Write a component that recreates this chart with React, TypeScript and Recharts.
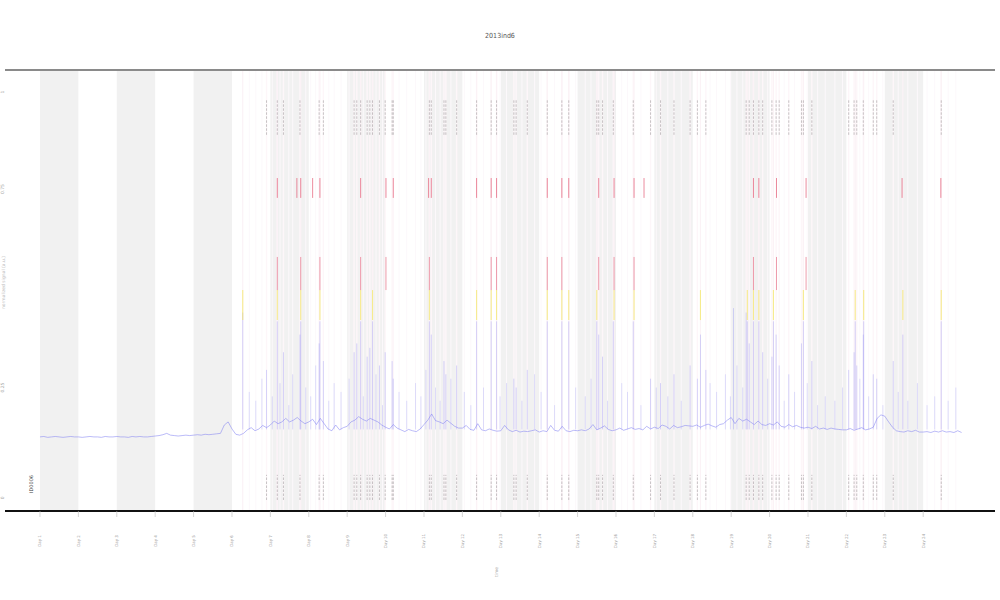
import React from 'react';
import {
  LineChart,
  Line,
  XAxis,
  YAxis,
  ReferenceArea,
  ReferenceLine
} from 'recharts';

// blue trace, one value every 0.1 day from 0 to 24
const traceStep = 0.1;
const traceValues = [
  16.8, 16.9, 16.7, 16.8, 16.9, 16.8, 16.7, 16.8, 16.9, 16.8,
  16.8, 16.7, 16.8, 16.9, 16.8, 16.8, 16.7, 16.9, 16.8, 16.8,
  16.9, 16.8, 16.8, 16.7, 16.9, 16.8, 16.9, 16.8, 16.8, 16.9,
  17.0, 17.1, 17.3, 17.6, 17.2, 17.1, 17.0, 17.1, 17.2, 17.1,
  17.2, 17.3, 17.2, 17.4, 17.3, 17.4, 17.5, 17.6, 19.5, 20.2,
  18.6, 17.4, 17.2, 17.6, 18.4, 18.9, 18.2, 18.6, 19.4, 18.9,
  19.5, 20.4, 19.8, 20.2, 21.0, 20.2, 20.6, 21.2, 20.4, 19.8,
  20.2, 20.8, 19.6, 21.0, 19.8, 18.6, 18.2, 19.5, 18.4, 18.9,
  19.2, 20.2, 20.6, 21.4, 20.8, 20.4, 21.0, 20.6, 20.2, 19.5,
  19.0, 18.6, 19.6, 18.8, 18.4, 18.0, 18.5, 18.2, 18.0, 18.6,
  19.6, 20.6, 22.0, 20.5, 20.2, 19.8, 20.6, 19.9, 19.2, 18.8,
  18.8, 19.4, 18.5, 18.3, 19.8, 18.4, 18.2, 18.6, 18.3, 18.1,
  18.2, 19.4, 18.4, 18.0, 18.3, 17.9, 18.1, 18.0, 18.2, 18.4,
  17.9, 18.2, 18.0, 19.4, 18.3, 18.1, 19.2, 18.2, 18.0, 18.3,
  18.2, 18.4, 18.2, 18.6, 19.6, 18.4, 18.8, 19.3, 18.5, 18.2,
  18.4, 18.8, 18.3, 18.6, 18.9, 18.5, 18.7, 18.4, 19.2, 18.6,
  19.0, 18.7, 19.5, 19.2, 18.6, 19.4, 18.9, 19.1, 19.4, 19.3,
  19.2, 19.5, 19.0, 19.4, 19.7, 19.3, 19.0, 19.6, 19.8, 20.6,
  21.2, 19.8, 21.0, 20.4, 20.8, 20.2, 19.6, 20.4, 19.6, 19.4,
  19.8, 19.5, 20.2, 19.2, 19.0, 19.6, 19.1, 19.4, 19.0, 18.8,
  19.0, 18.7, 19.2, 18.6, 18.8, 18.5, 18.8, 18.6, 18.5, 18.4,
  18.4, 18.7, 18.3, 18.6, 18.9, 18.4, 18.6, 19.0, 21.0, 21.8,
  21.5, 20.2, 19.0, 18.2, 18.0, 17.9, 18.2, 18.0, 18.3, 17.9,
  17.9, 18.0, 17.8, 18.1, 17.9, 18.2, 17.9, 18.0, 17.8, 18.2,
  17.8
];

// events with black tick marks (days)
const eventTimes = [
  5.90, 6.18, 6.34, 6.77, 7.27, 7.38, 8.18, 8.25, 8.35, 8.52,
  8.59, 8.66, 8.84, 8.99, 9.17, 9.20, 10.14, 10.19, 10.52, 10.57,
  10.85, 11.37, 11.75, 11.89, 12.34, 12.40, 12.69, 13.21, 13.59, 13.77,
  14.50, 14.55, 14.65, 14.93, 15.45, 15.90, 16.16, 16.51, 16.93, 17.12,
  17.34, 18.39, 18.47, 18.58, 18.72, 18.82, 19.06, 19.17, 19.25, 19.50,
  19.83, 19.88, 20.10, 21.06, 21.20, 21.27, 21.44, 21.70, 21.79, 22.22,
  23.47
];

// tall blue spikes: time and peak
const spikeTimes = [
  5.28, 5.90, 6.18, 6.34, 6.77, 6.79, 7.27, 7.29, 7.38, 8.18,
  8.25, 8.35, 8.52, 8.59, 8.66, 8.84, 8.99, 9.17, 9.20, 10.14,
  10.19, 10.52, 10.57, 10.85, 11.37, 11.75, 11.89, 12.34, 12.40, 12.69,
  13.21, 13.59, 13.77, 14.50, 14.55, 14.65, 14.93, 15.45, 15.90, 16.16,
  16.51, 16.93, 17.12, 17.20, 17.34, 18.06, 18.39, 18.42, 18.47, 18.58,
  18.72, 18.82, 19.06, 19.10, 19.17, 19.25, 19.50, 19.83, 19.88, 20.10,
  21.06, 21.20, 21.23, 21.27, 21.44, 21.45, 21.70, 21.79, 22.22, 22.47,
  23.47
];
const spikePeaks = [
  45, 32, 43, 36, 40, 43, 38, 43, 34, 36,
  38, 43, 35, 37, 43, 33, 36, 34, 30, 43,
  40, 34, 31, 33, 43, 43, 43, 30, 28, 32,
  43, 43, 43, 43, 40, 35, 43, 43, 30, 29,
  31, 33, 30, 40, 32, 46, 45, 43, 38, 43,
  43, 36, 35, 43, 40, 33, 31, 38, 43, 34,
  32, 36, 43, 33, 40, 43, 31, 30, 34, 40,
  43
];

// small blue spikes
const minorSpikeTimes = [
  5.45, 5.62, 5.78, 6.05, 6.25, 6.48, 6.58, 6.92, 7.05, 7.18,
  7.52, 7.66, 7.84, 8.05, 8.42, 8.75, 8.92, 9.35, 9.55, 9.78,
  9.92, 10.05, 10.30, 10.42, 10.70, 11.05, 11.22, 11.55, 11.98, 12.15,
  12.55, 12.88, 13.05, 13.40, 13.95, 14.20, 14.35, 14.78, 15.15, 15.30,
  15.65, 16.05, 16.35, 16.70, 17.45, 17.62, 17.85, 17.98, 18.15, 18.30,
  18.95, 19.38, 19.65, 19.98, 20.25, 20.45, 20.70, 20.90, 21.35, 21.58,
  21.95, 22.35, 22.60, 22.85, 23.10, 23.30, 23.65, 23.85
];
const minorSpikePeaks = [
  27, 25, 30, 26, 29, 24, 31, 28, 26, 33,
  25, 29, 27, 30, 26, 31, 24, 27, 25, 29,
  26, 32, 28, 25, 30, 27, 24, 28, 26, 29,
  25, 31, 27, 24, 28, 26, 30, 25, 29, 27,
  24, 28, 26, 25, 29, 27, 31, 26, 33, 28,
  30, 25, 27, 29, 24, 26, 25, 28, 30, 26,
  24, 27, 25, 29, 24, 26, 25, 28
];

const yellowTimes = [
  5.28, 6.18, 6.79, 7.29, 8.35, 8.66, 10.14, 11.37, 11.75, 11.89,
  13.21, 13.59, 13.77, 14.50, 14.95, 15.47, 17.20, 18.42, 18.58, 18.72,
  19.10, 19.88, 21.23, 21.45, 22.47, 23.47
];
const redMidTimes = [
  6.18, 6.79, 7.29, 8.35, 9.01, 10.14, 11.75, 11.89, 13.21, 13.59,
  14.55, 14.95, 15.47, 18.58, 19.18, 19.95
];
const redTopTimes = [
  6.18, 6.69, 6.79, 7.10, 7.29, 8.35, 9.01, 9.20, 10.12, 10.19,
  11.37, 11.75, 11.89, 13.21, 13.59, 13.77, 14.55, 14.95, 15.47, 15.73,
  18.58, 18.72, 19.18, 19.95, 22.45, 23.46
];

const shadedDays = [0, 2, 4, 6, 8, 10, 12, 14, 16, 18, 20, 22];
const xTicks = [0, 1, 2, 3, 4, 5, 6, 7, 8, 9, 10, 11, 12, 13, 14, 15, 16, 17, 18, 19, 20, 21, 22, 23];
const xTickLabels = [
  'Day 1', 'Day 2', 'Day 3', 'Day 4', 'Day 5', 'Day 6', 'Day 7', 'Day 8',
  'Day 9', 'Day 10', 'Day 11', 'Day 12', 'Day 13', 'Day 14', 'Day 15', 'Day 16',
  'Day 17', 'Day 18', 'Day 19', 'Day 20', 'Day 21', 'Day 22', 'Day 23', 'Day 24'
];
const yTicks = [3, 28, 73, 95];
const yTickLabels = ['0', '0.25', '0.75', '1'];

const traceData = traceValues.map((v, i) => ({ t: +(i * traceStep).toFixed(2), v }));

const XTick = (props: any) => {
  const { x, y, payload } = props;
  return (
    <text
      x={x}
      y={y + 22}
      transform={`rotate(-90 ${x} ${y + 22})`}
      textAnchor="middle"
      dominantBaseline="central"
      fontSize={4}
      fill="#999"
      fontFamily="DejaVu Sans"
    >
      {xTickLabels[payload.index] ?? payload.value}
    </text>
  );
};

const YTick = (props: any) => {
  const { y, payload } = props;
  const i = yTicks.indexOf(payload.value);
  return (
    <text
      x={3}
      y={y}
      transform={`rotate(-90 3 ${y})`}
      textAnchor="middle"
      dominantBaseline="central"
      fontSize={4.5}
      fill="#aaa"
      fontFamily="DejaVu Sans"
    >
      {yTickLabels[i]}
    </text>
  );
};

export default function App() {
  return (
    <div style={{ position: 'absolute', left: 0, top: 0, width: 1000, height: 600, background: '#fff' }}>
      <div
        style={{
          position: 'absolute', left: 0, top: 32, width: 1000, textAlign: 'center',
          fontFamily: 'DejaVu Sans Condensed', fontSize: 7, color: '#555'
        }}
      >
        2013ind6
      </div>
      <div
        style={{
          position: 'absolute', left: 494, top: 566, width: 12, height: 12,
          transform: 'rotate(-90deg)', fontFamily: 'DejaVu Sans', fontSize: 4.5,
          color: '#aaa', textAlign: 'center'
        }}
      >
        time
      </div>
      <div
        style={{
          position: 'absolute', left: -30, top: 280, width: 66, textAlign: 'center',
          transform: 'rotate(-90deg)', fontFamily: 'DejaVu Sans', fontSize: 4.5, color: '#bbb'
        }}
      >
        normalized signal (a.u.)
      </div>
      <div
        style={{
          position: 'absolute', left: 22, top: 481, width: 18, textAlign: 'center',
          transform: 'rotate(-90deg)', fontFamily: 'DejaVu Sans', fontSize: 5, color: '#333'
        }}
      >
        ID0006
      </div>
      <LineChart
        width={1000}
        height={600}
        data={traceData}
        margin={{ top: 70, right: 5, bottom: 59, left: 0 }}
        style={{ position: 'absolute', left: 0, top: 0 }}
      >
        <XAxis
          dataKey="t"
          type="number"
          domain={[-0.911, 24.87]}
          allowDataOverflow
          ticks={xTicks}
          interval={0}
          height={30}
          tick={<XTick />}
          tickLine={{ stroke: '#bbb', strokeWidth: 0.6 }}
          tickSize={6}
          axisLine={{ stroke: '#111', strokeWidth: 2 }}
        />
        <YAxis
          type="number"
          domain={[0, 100]}
          allowDataOverflow
          ticks={yTicks}
          width={5}
          tick={<YTick />}
          tickLine={false}
          axisLine={false}
        />
        {shadedDays.map((d) => (
          <ReferenceArea key={`band-${d}`} x1={d} x2={d + 1} y1={0} y2={100} fill="#f1f1f1" fillOpacity={1} stroke="none" />
        ))}
        {eventTimes.map((t, i) => (
          <ReferenceLine key={`full-${i}`} x={t} stroke="#fdf6f9" strokeWidth={1.4} />
        ))}
        {yellowTimes.map((t, i) => (
          <ReferenceLine key={`fully-${i}`} x={t} stroke="#fbf2f6" strokeWidth={1.2} />
        ))}
        {minorSpikeTimes.map((t, i) => (
          <ReferenceLine key={`fullm-${i}`} x={t} stroke="#fcf8fb" strokeWidth={1} />
        ))}
        <ReferenceLine y={100} stroke="#8a8a8a" strokeWidth={2} />
        {minorSpikeTimes.map((t, i) => (
          <ReferenceLine
            key={`mspike-${i}`}
            segment={[{ x: t, y: 18.5 }, { x: t, y: minorSpikePeaks[i] }]}
            stroke="#8a8af5"
            strokeOpacity={0.35}
            strokeWidth={0.8}
          />
        ))}
        {spikeTimes.map((t, i) => (
          <ReferenceLine
            key={`spike-${i}`}
            segment={[{ x: t, y: 18.5 }, { x: t, y: spikePeaks[i] }]}
            stroke="#7a7af5"
            strokeOpacity={0.3}
            strokeWidth={1}
          />
        ))}
        <Line
          dataKey="v"
          type="linear"
          stroke="#7d7df2"
          strokeOpacity={0.75}
          strokeWidth={0.7}
          dot={false}
          isAnimationActive={false}
        />
        {yellowTimes.map((t, i) => (
          <ReferenceLine
            key={`yel-${i}`}
            segment={[{ x: t, y: 43.3 }, { x: t, y: 50.1 }]}
            stroke="#f3e64a"
            strokeOpacity={0.6}
            strokeWidth={1.1}
          />
        ))}
        {redMidTimes.map((t, i) => (
          <ReferenceLine
            key={`rm-${i}`}
            segment={[{ x: t, y: 50.1 }, { x: t, y: 57.6 }]}
            stroke="#e0405e"
            strokeOpacity={0.5}
            strokeWidth={1}
          />
        ))}
        {redTopTimes.map((t, i) => (
          <ReferenceLine
            key={`rt-${i}`}
            segment={[{ x: t, y: 71 }, { x: t, y: 75.5 }]}
            stroke="#e0405e"
            strokeOpacity={0.6}
            strokeWidth={1}
          />
        ))}
        {eventTimes.map((t, i) => (
          <ReferenceLine
            key={`bt-${i}`}
            segment={[{ x: t, y: 85.3 }, { x: t, y: 93.2 }]}
            stroke="#666"
            strokeOpacity={0.6}
            strokeWidth={0.6}
            strokeDasharray="2.5 1.5"
          />
        ))}
        {eventTimes.map((t, i) => (
          <ReferenceLine
            key={`bb-${i}`}
            segment={[{ x: t, y: 2.5 }, { x: t, y: 8.2 }]}
            stroke="#666"
            strokeOpacity={0.6}
            strokeWidth={0.6}
            strokeDasharray="2.5 1.5"
          />
        ))}
      </LineChart>
    </div>
  );
}
